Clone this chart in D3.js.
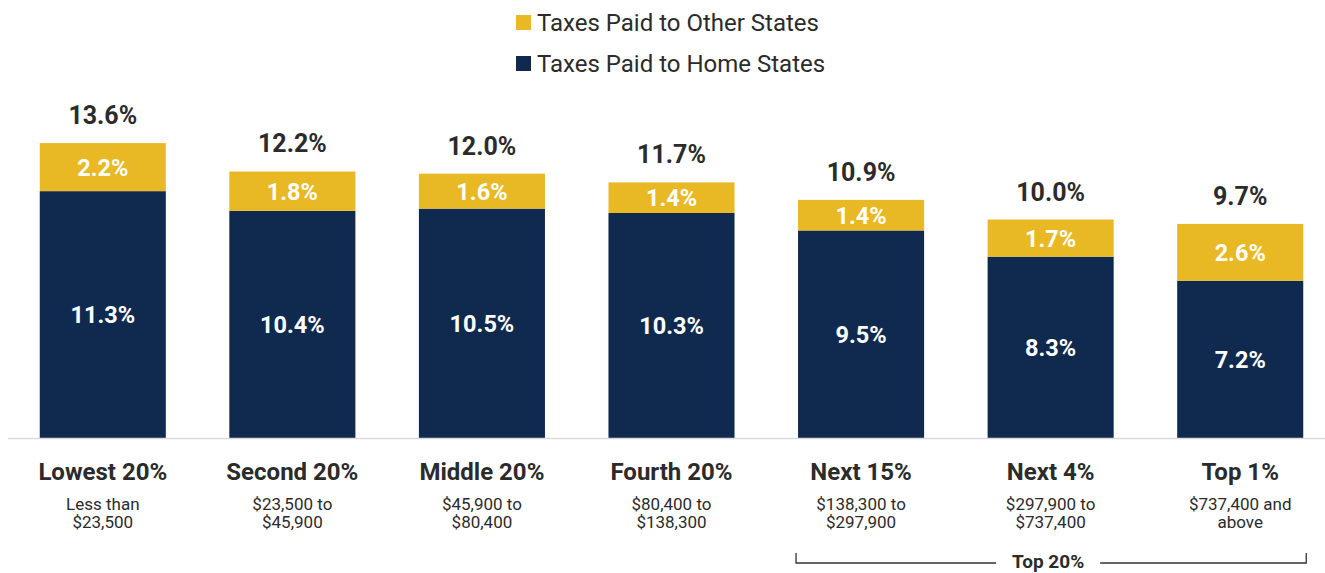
<!DOCTYPE html>
<html>
<head>
<meta charset="utf-8">
<script src="https://cdn.jsdelivr.net/npm/d3@7"></script>
<style>
  html, body { margin: 0; padding: 0; background: #fff; }
  svg { display: block; font-family: Roboto, "Noto Sans", sans-serif; }
</style>
</head>
<body>
<svg id="chart" width="1325" height="573"></svg>
<script>
// Income groups and their income ranges
const groups = ["Lowest 20%", "Second 20%", "Middle 20%", "Fourth 20%", "Next 15%", "Next 4%", "Top 1%"];
const rangeLine1 = ["Less than", "$23,500 to", "$45,900 to", "$80,400 to", "$138,300 to", "$297,900 to", "$737,400 and"];
const rangeLine2 = ["$23,500", "$45,900", "$80,400", "$138,300", "$297,900", "$737,400", "above"];

// Tax shares of income (%)
const homeStates = [11.3, 10.4, 10.5, 10.3, 9.5, 8.3, 7.2];
const otherStates = [2.2, 1.8, 1.6, 1.4, 1.4, 1.7, 2.6];
const totals = [13.6, 12.2, 12.0, 11.7, 10.9, 10.0, 9.7];

const legendLabels = ["Taxes Paid to Other States", "Taxes Paid to Home States"];
const bracketLabel = "Top 20%";

const colors = { home: "#0f2a4e", other: "#e8b825", text: "#2b2b2b" };

const svg = d3.select("#chart");
const baseY = 438;

const x = d3.scaleBand()
  .domain(groups)
  .range([8, 1335])
  .paddingInner(0.335)
  .paddingOuter(0.1675);

const y = d3.scaleLinear()
  .domain([0, 13.55])
  .range([baseY, 142]);

const rows = groups.map((g, i) => ({
  group: g, home: homeStates[i], other: otherStates[i], total: totals[i],
  r1: rangeLine1[i], r2: rangeLine2[i]
}));

const stack = d3.stack().keys(["home", "other"]);
const series = stack(rows);

const fmt = d => d3.format(".1f")(d) + "%";
const cx = d => x(d.group) + x.bandwidth() / 2;

// Stacked bars
const layer = svg.append("g").selectAll("g")
  .data(series)
  .join("g")
  .attr("fill", s => colors[s.key]);

layer.selectAll("rect")
  .data(s => s)
  .join("rect")
  .attr("x", d => x(d.data.group))
  .attr("width", x.bandwidth())
  .attr("y", d => y(d[1]))
  .attr("height", d => y(d[0]) - y(d[1]));

// Segment value labels
const segLabels = svg.append("g")
  .attr("text-anchor", "middle")
  .attr("fill", "#fff")
  .attr("font-weight", 700)
  .attr("font-size", 23.5);

series.forEach(s => {
  segLabels.selectAll(null)
    .data(s)
    .join("text")
    .attr("x", d => cx(d.data))
    .attr("y", d => (y(d[0]) + y(d[1])) / 2)
    .attr("dy", "0.36em")
    .text(d => fmt(d.data[s.key]));
});

// Totals above bars
svg.append("g")
  .attr("text-anchor", "middle")
  .attr("fill", colors.text)
  .attr("font-weight", 700)
  .attr("font-size", 25)
  .selectAll("text")
  .data(rows)
  .join("text")
  .attr("x", cx)
  .attr("y", d => y(d.home + d.other) - 19)
  .text(d => fmt(d.total));

// Baseline
svg.append("line")
  .attr("x1", 8).attr("x2", 1325)
  .attr("y1", baseY + 0.5).attr("y2", baseY + 0.5)
  .attr("stroke", "#d9d9d9")
  .attr("stroke-width", 1.5);

// Category labels
const cat = svg.append("g")
  .attr("text-anchor", "middle")
  .attr("fill", colors.text);

cat.selectAll("text.name")
  .data(rows)
  .join("text")
  .attr("class", "name")
  .attr("x", cx)
  .attr("y", 479.5)
  .attr("font-weight", 700)
  .attr("font-size", 24)
  .text(d => d.group);

cat.selectAll("text.r1")
  .data(rows)
  .join("text")
  .attr("class", "r1")
  .attr("x", cx)
  .attr("y", 510)
  .attr("font-size", 17)
  .text(d => d.r1);

cat.selectAll("text.r2")
  .data(rows)
  .join("text")
  .attr("class", "r2")
  .attr("x", cx)
  .attr("y", 527.5)
  .attr("font-size", 17)
  .text(d => d.r2);

// Top 20% bracket
const bx0 = x("Next 15%") - 2;
const bx1 = x("Top 1%") + x.bandwidth() + 3;
const by = 563;
const bmid = (bx0 + bx1) / 2 - 3;
const gap = 52;
const bracket = svg.append("g")
  .attr("stroke", "#333")
  .attr("stroke-width", 1.3)
  .attr("fill", "none");
bracket.append("path")
  .attr("d", `M${bx0},${by - 10}V${by}H${bmid - gap}`);
bracket.append("path")
  .attr("d", `M${bmid + gap},${by}H${bx1}V${by - 10}`);
svg.append("text")
  .attr("x", bmid)
  .attr("y", by + 5)
  .attr("text-anchor", "middle")
  .attr("fill", colors.text)
  .attr("font-weight", 700)
  .attr("font-size", 19)
  .text(bracketLabel);

// Legend
const legend = svg.append("g")
  .selectAll("g")
  .data(legendLabels)
  .join("g")
  .attr("transform", (d, i) => `translate(516, ${22 + i * 41})`);
legend.append("rect")
  .attr("x", 0).attr("y", -7)
  .attr("width", 15).attr("height", 15)
  .attr("fill", (d, i) => i === 0 ? colors.other : colors.home);
legend.append("text")
  .attr("x", 21)
  .attr("dy", "0.36em")
  .attr("fill", colors.text)
  .attr("font-size", 24)
  .text(d => d);
</script>
</body>
</html>
